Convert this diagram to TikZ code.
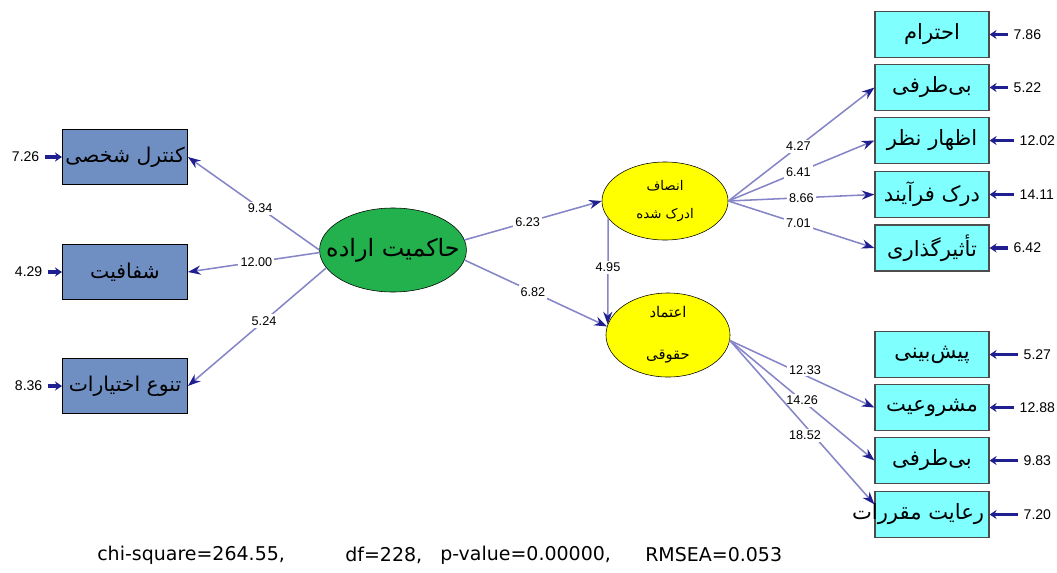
\documentclass[tikz,border=0pt]{standalone}
\usepackage{fontspec}
\setmainfont{Liberation Sans}
\newfontfamily\farsi[Script=Arabic]{DejaVu Sans}
\newfontfamily\fitfont{DejaVu Sans}
\TeXXeTstate=1
\usetikzlibrary{arrows.meta,shapes.geometric}

\definecolor{pathline}{HTML}{8585C8}
\definecolor{pathtip}{HTML}{1F1F8F}
\definecolor{leftfill}{HTML}{6F8FC3}
\definecolor{rightfill}{HTML}{80FFFF}
\definecolor{govgreen}{HTML}{22B14C}
\definecolor{latyellow}{HTML}{FFFF00}

\newcommand{\fa}[1]{{\farsi\beginR #1\endR}}

\tikzset{
  obsleft/.style={draw, thick, fill=leftfill, minimum width=3.12cm, minimum height=1.37cm,
    inner sep=0pt, font=\farsi\fontsize{14.5}{16}\selectfont},
  obsright/.style={draw=black!70, thick, fill=rightfill, minimum width=2.85cm, minimum height=1.15cm,
    inner sep=0pt, font=\farsi\fontsize{15}{17}\selectfont},
  latent/.style={draw, ellipse, inner sep=0pt, align=center},
  loadpath/.style={draw=pathline, line width=1.1pt,
    -{Stealth[length=9pt,width=6.5pt,color=pathtip]}},
  err/.style={draw=pathtip, line width=2.6pt, shorten <=3pt,
    -{Stealth[length=5pt,width=6.5pt]}},
  coef/.style={fill=white, inner sep=1.5pt, font=\fontsize{9}{10}\selectfont},
  errlbl/.style={inner sep=1pt, font=\fontsize{10}{11}\selectfont},
  fitlbl/.style={anchor=west, inner sep=0pt, font=\fitfont\fontsize{13.5}{15}\selectfont}
}

\begin{document}
\begin{tikzpicture}[x=0.025cm, y=-0.025cm]
\useasboundingbox (0,0) rectangle (1057,572);

% latent variables
\node[latent, fill=govgreen, minimum width=3.67cm, minimum height=2.1cm,
  font=\farsi\fontsize{17}{19}\selectfont] (gov) at (393,250) {\makebox[0pt]{\fa{حاکمیت اراده}}};
\node[latent, fill=latyellow, minimum width=3.15cm, minimum height=1.95cm,
  font=\farsi\fontsize{9.5}{20}\selectfont] (fair) at (665,201)
  {\makebox[0pt]{\fa{انصاف}}\\\makebox[0pt]{\fa{ادرک شده}}};
\node[latent, fill=latyellow, minimum width=3.1cm, minimum height=2.1cm,
  font=\farsi\fontsize{10.5}{28}\selectfont] (trust) at (668,335)
  {\makebox[0pt]{\fa{اعتماد}}\\[2pt]\makebox[0pt]{\fa{حقوقی}}};

% indicators of gov
\node[obsleft] (l1) at (125,157) {\fa{کنترل شخصی}};
\node[obsleft] (l2) at (125,272) {\fa{شفافیت}};
\node[obsleft] (l3) at (125,386) {\fa{تنوع اختیارات}};

% indicators of fair
\node[obsright] (a1) at (932,34.5) {\fa{احترام}};
\node[obsright] (a2) at (932,87.5) {\fa{بی‌طرفی}};
\node[obsright] (a3) at (932,140.5) {\fa{اظهار نظر}};
\node[obsright] (a4) at (932,194.5) {\makebox[0pt]{\fa{درک فرآیند}}};
\node[obsright] (a5) at (932,248) {\fa{تأثیرگذاری}};

% indicators of trust
\node[obsright] (b1) at (932,354.5) {\fa{پیش‌بینی}};
\node[obsright] (b2) at (932,407.5) {\fa{مشروعیت}};
\node[obsright] (b3) at (932,460.5) {\fa{بی‌طرفی}};
\node[obsright] (b4) at (932,514.5) {\makebox[0pt][r]{\fa{رعایت مقررات}\hspace*{-37pt}}};

% paths
\draw[loadpath] (gov.west) -- node[coef, pos=0.45] {9.34} (l1.east);
\draw[loadpath] (gov.182) -- node[coef, pos=0.48] {12.00} (l2.east);
\draw[loadpath] (gov.195) -- node[coef, pos=0.45] {5.24} (l3.east);
\draw[loadpath] (gov.8) -- node[coef, pos=0.46] {6.23} (fair.west);
\draw[loadpath] (gov.352) -- node[coef, pos=0.48] {6.82} (trust.172);
\draw[loadpath] (fair.197) -- node[coef, pos=0.46] {4.95} (trust.170);

\draw[loadpath] (fair.east) -- node[coef, pos=0.48] {4.27} (a2.west);
\draw[loadpath] (fair.east) -- node[coef, pos=0.48] {6.41} (a3.west);
\draw[loadpath] (fair.east) -- node[coef, pos=0.5] {8.66} (a4.west);
\draw[loadpath] (fair.east) -- node[coef, pos=0.48] {7.01} (a5.west);

\draw[loadpath] (trust.355) -- node[coef, pos=0.52, yshift=4pt] {12.33} (b2.west);
\draw[loadpath] (trust.355) -- node[coef, pos=0.5] {14.26} (b3.west);
\draw[loadpath] (trust.355) -- node[coef, pos=0.52, yshift=-7pt] {18.52} (b4.170);

% error terms
\node[errlbl, anchor=east] (el1) at (41,157) {7.26};
\node[errlbl, anchor=east] (el2) at (44,272) {4.29};
\node[errlbl, anchor=east] (el3) at (44,386) {8.36};
\draw[err] (el1.east) -- (l1.west);
\draw[err] (el2.east) -- (l2.west);
\draw[err] (el3.east) -- (l3.west);

\node[errlbl, anchor=west] (ea1) at (1012,34.5) {7.86};
\node[errlbl, anchor=west] (ea2) at (1012,87.5) {5.22};
\node[errlbl, anchor=west] (ea3) at (1018,140.5) {12.02};
\node[errlbl, anchor=west] (ea4) at (1018,194.5) {14.11};
\node[errlbl, anchor=west] (ea5) at (1012,248) {6.42};
\node[errlbl, anchor=west] (eb1) at (1022,354.5) {5.27};
\node[errlbl, anchor=west] (eb2) at (1018,407.5) {12.88};
\node[errlbl, anchor=west] (eb3) at (1022,460.5) {9.83};
\node[errlbl, anchor=west] (eb4) at (1022,514.5) {7.20};
\foreach \e/\b in {ea1/a1,ea2/a2,ea3/a3,ea4/a4,ea5/a5,eb1/b1,eb2/b2,eb3/b3,eb4/b4}
  \draw[err] (\e.west) -- (\b.east);

% fit indices
\node[fitlbl] (chi) at (97,555) {chi-square=264.55,};
\node[fitlbl] (df) at (345,555) {df=228,};
\node[fitlbl] (pval) at (440,555) {p-value=0.00000,};
\node[fitlbl] (rmsea) at (645,555) {RMSEA=0.053};

\end{tikzpicture}
\end{document}
